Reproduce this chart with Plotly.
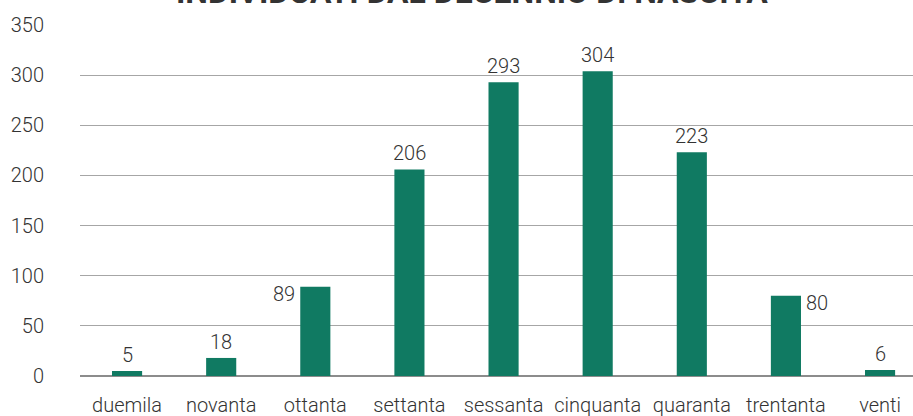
import plotly.graph_objects as go

categories = ["duemila", "novanta", "ottanta", "settanta", "sessanta",
              "cinquanta", "quaranta", "trentanta", "venti"]
values = [5, 18, 89, 206, 293, 304, 223, 80, 6]
label_side = ["top", "top", "left", "top", "top", "top", "top", "right", "top"]
y_ticks = [0, 50, 100, 150, 200, 250, 300, 350]
title_text = "INDIVIDUATI DAL DECENNIO DI NASCITA"

BAR = "#107A62"
TXT = "#333333"
FONT = "Roboto"
LBL = dict(family=FONT, size=20, color=TXT, weight=300)

fig = go.Figure()
fig.add_trace(go.Bar(
    x=categories, y=values, marker_color=BAR, width=0.32,
    marker_line_width=0, hoverinfo="x+y",
))

for c, v, side in zip(categories, values, label_side):
    if side == "top":
        fig.add_annotation(x=c, y=v, text=str(v), showarrow=False,
                           xanchor="center", yanchor="bottom", yshift=2, font=LBL)
    elif side == "left":
        fig.add_annotation(x=c, y=v, text=str(v), showarrow=False,
                           xanchor="right", yanchor="middle", xshift=-18, yshift=-7,
                           font=LBL)
    else:
        fig.add_annotation(x=c, y=v, text=str(v), showarrow=False,
                           xanchor="left", yanchor="middle", xshift=18, yshift=-7,
                           font=LBL)

fig.add_annotation(xref="paper", yref="paper", x=0.47, y=1, yshift=12,
                   xanchor="center", yanchor="bottom", showarrow=False,
                   text="<b>" + title_text + "</b>",
                   font=dict(family=FONT, size=32, color="#333333"))

fig.update_layout(
    width=913, height=416,
    margin=dict(l=80, r=0, t=25, b=40),
    paper_bgcolor="white", plot_bgcolor="white",
    showlegend=False,
    font=LBL,
    bargap=0.68,
)
fig.update_xaxes(
    range=[-0.5, 8.35], showgrid=False, showline=False, zeroline=False,
    ticks="", tickfont=LBL, ticklabelstandoff=15, automargin=False,
)
fig.update_yaxes(
    range=[0, 350], tickvals=y_ticks, showgrid=True, gridcolor="#A6A6A6",
    gridwidth=1.3, zeroline=True, zerolinecolor="#8C8C8C", zerolinewidth=1.5,
    showline=False, ticks="", tickfont=LBL, ticklabelstandoff=35, automargin=False,
)

fig.write_html("out.html", config={"displayModeBar": False},
               post_script="document.body.style.margin='0';")
